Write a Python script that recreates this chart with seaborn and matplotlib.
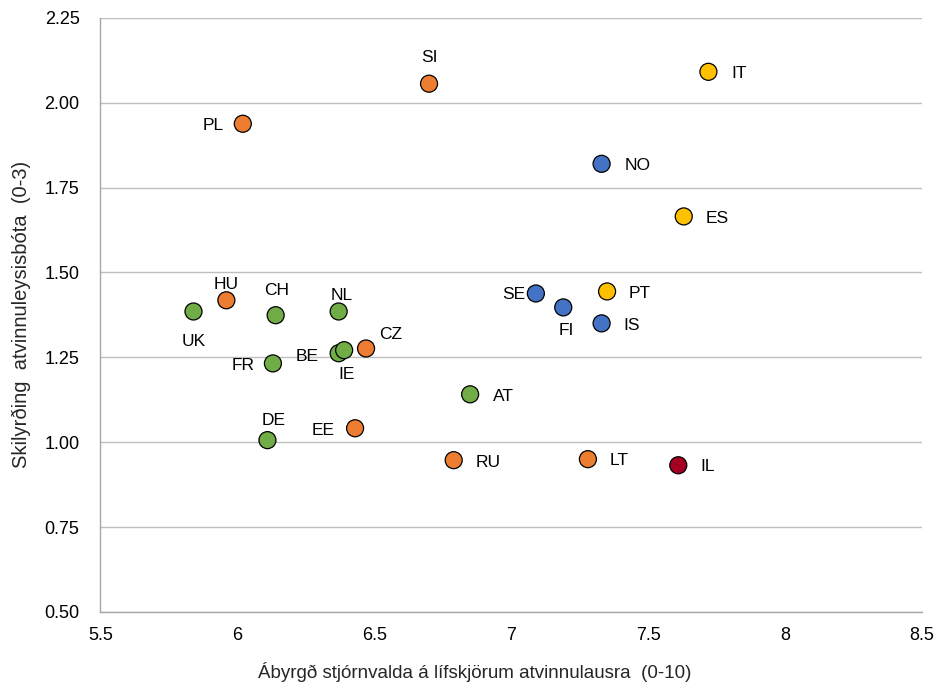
import pandas as pd
import seaborn as sns
import matplotlib.pyplot as plt

# Data
countries = ['SI', 'IT', 'PL', 'NO', 'ES', 'HU', 'UK', 'CH', 'NL', 'SE', 'FI', 'PT',
             'IS', 'BE', 'IE', 'CZ', 'FR', 'AT', 'EE', 'DE', 'RU', 'LT', 'IL']
responsibility = [6.70, 7.72, 6.02, 7.33, 7.63, 5.96, 5.84, 6.14, 6.37, 7.09, 7.19, 7.35,
                  7.33, 6.37, 6.39, 6.47, 6.13, 6.85, 6.43, 6.11, 6.79, 7.28, 7.61]
conditionality = [2.056, 2.091, 1.938, 1.820, 1.665, 1.418, 1.385, 1.374, 1.385, 1.438, 1.397, 1.444,
                  1.350, 1.262, 1.271, 1.276, 1.232, 1.141, 1.041, 1.006, 0.947, 0.950, 0.932]
groups = ['east', 'south', 'east', 'nordic', 'south', 'east', 'west', 'west', 'west', 'nordic', 'nordic', 'south',
          'nordic', 'west', 'west', 'east', 'west', 'west', 'east', 'west', 'east', 'east', 'israel']

palette = {'west': '#70AD47', 'east': '#ED7D31', 'nordic': '#4472C4',
           'south': '#FFC000', 'israel': '#A50021'}

# label offsets in pixels (dx, dy)
label_offsets = {'SI': (0, 26), 'IT': (31, -2), 'PL': (-30, -2), 'NO': (36, -2), 'ES': (33, -2),
                 'HU': (0, 16), 'UK': (0, -30), 'CH': (1, 25), 'NL': (3, 16), 'SE': (-22, -1),
                 'FI': (3, -23), 'PT': (33, -2), 'IS': (30, -2), 'BE': (-32, -3), 'IE': (2, -24),
                 'CZ': (25, 14), 'FR': (-30, -2), 'AT': (33, -2), 'EE': (-32, -2), 'DE': (6, 20),
                 'RU': (34, -2), 'LT': (31, -1), 'IL': (29, -1)}

df = pd.DataFrame({'country': countries, 'x': responsibility,
                   'y': conditionality, 'group': groups})

sns.set_style('white')
plt.rcParams['font.family'] = ['Liberation Sans', 'DejaVu Sans']

fig, ax = plt.subplots(figsize=(9.38, 6.86), dpi=100)
fig.subplots_adjust(left=0.107, right=0.983, top=0.974, bottom=0.108)

ax.set_axisbelow(True)
ax.grid(axis='y', color='#BFBFBF', linewidth=1)
sns.scatterplot(data=df, x='x', y='y', hue='group', palette=palette, s=150,
                edgecolor='black', linewidth=0.9, legend=False, ax=ax, zorder=3)

for c, x, y in zip(countries, responsibility, conditionality):
    dx, dy = label_offsets[c]
    ax.annotate(c, (x, y), xytext=(dx, dy), textcoords='offset pixels',
                ha='center', va='center', fontsize=12.5, color='black')

ax.set_xlim(5.5, 8.5)
ax.set_ylim(0.5, 2.25)
ax.set_xticks([5.5, 6, 6.5, 7, 7.5, 8, 8.5])
ax.set_xticklabels(['5.5', '6', '6.5', '7', '7.5', '8', '8.5'])
ax.set_yticks([0.5, 0.75, 1.0, 1.25, 1.5, 1.75, 2.0, 2.25])
ax.set_yticklabels(['0.50', '0.75', '1.00', '1.25', '1.50', '1.75', '2.00', '2.25'])
ax.tick_params(axis='both', labelsize=13, colors='black', length=5, width=1)
ax.tick_params(axis='both', color='#A6A6A6')
ax.tick_params(axis='x', pad=6)
ax.tick_params(axis='y', pad=10)

for side in ['top', 'right']:
    ax.spines[side].set_visible(False)
for side in ['left', 'bottom']:
    ax.spines[side].set_color('#A6A6A6')
    ax.spines[side].set_linewidth(1)

ax.set_xlabel('Ábyrgð stjórnvalda á lífskjörum atvinnulausra  (0-10)', fontsize=13.5, labelpad=13)
ax.xaxis.label.set_x(0.455)
ax.set_ylabel('Skilyrðing  atvinnuleysisbóta  (0-3)', fontsize=14.5, labelpad=10)

fig.savefig('out.png', dpi=100)
